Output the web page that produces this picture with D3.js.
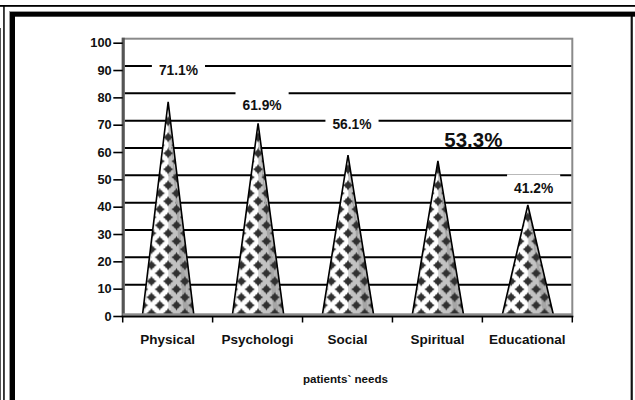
<!DOCTYPE html>
<html>
<head>
<meta charset="utf-8">
<script src="https://cdn.jsdelivr.net/npm/d3@7/dist/d3.min.js"></script>
<style>
  html, body { margin: 0; padding: 0; background: #fff; }
  svg { display: block; }
  text { font-family: "Liberation Sans", Arial, sans-serif; font-weight: bold; fill: #111; }
</style>
</head>
<body>
<svg id="chart" width="635" height="400"></svg>
<script>
// ---- data ----
const categories = ["Physical", "Psychologi", "Social", "Spiritual", "Educational"];
const coneValues = [78.4, 70.5, 58.9, 56.8, 40.6];
const labelTexts = ["71.1%", "61.9%", "56.1%", "53.3%", "41.2%"];
// label anchor (in data units) and horizontal offset (fraction of band)
const labelValues = [90.0, 77.2, 70.1, 64.4, 46.7];
const labelShift = [0.12, 0.05, 0.05, 0.40, 0.07];
const labelBig = [false, false, false, true, false];
const yTicks = [0, 10, 20, 30, 40, 50, 60, 70, 80, 90, 100];
const xTitle = "patients` needs";

// ---- layout ----
const W = 635, H = 400;
const plotL = 122.7, plotR = 572.3, floorY = 316, topY = 42.7;
const wallShift = 4; // back-wall gridline offset

const svg = d3.select("#chart");
const x = d3.scaleBand().domain(categories).range([plotL, plotR]).padding(0);
const y = d3.scaleLinear().domain([0, 100]).range([floorY, topY]);
const bw = x.bandwidth();

// ---- frame ----
svg.append("rect").attr("x", 0).attr("y", 0).attr("width", W).attr("height", H).attr("fill", "#fff");
svg.append("rect").attr("x", 0).attr("y", 5).attr("width", W).attr("height", 1.8).attr("fill", "#000");
svg.append("rect").attr("x", 3.2).attr("y", 6).attr("width", 1.5).attr("height", H).attr("fill", "#000");
svg.append("rect").attr("x", 0).attr("y", 28).attr("width", 1).attr("height", H).attr("fill", "#555");
svg.append("rect").attr("x", 9).attr("y", 11).attr("width", W).attr("height", H).attr("fill", "#999");
svg.append("rect").attr("x", 10).attr("y", 12).attr("width", W).attr("height", H).attr("fill", "#000");
svg.append("rect").attr("x", 15).attr("y", 16.7).attr("width", 630.8 - 15).attr("height", H).attr("fill", "#fff");
svg.append("rect").attr("x", 630.8).attr("y", 16.7).attr("width", 2).attr("height", H).attr("fill", "#111");
svg.append("rect").attr("x", 632.8).attr("y", 16.7).attr("width", 2.2).attr("height", H).attr("fill", "#fff");

const defs = svg.append("defs");
const patW = 16.7, patH = 16;

// diamond pattern, one per cone so a blob sits on each cone's axis
function makePattern(id, cx0, cy0) {
  const pat = defs.append("pattern").attr("id", id)
    .attr("patternUnits", "userSpaceOnUse")
    .attr("width", patW).attr("height", patH)
    .attr("x", cx0).attr("y", cy0);
  const centers = [[0,0],[patW,0],[0,patH],[patW,patH],[patW/2,patH/2]];
  const r = 5.2, s = 2.6;
  centers.forEach(([cx, cy]) => {
    pat.append("path")
      .attr("d", `M${cx},${cy-r} L${cx+s*0.55},${cy-s} L${cx+s},${cy-s*0.55} L${cx+r},${cy} L${cx+s},${cy+s*0.55} L${cx+s*0.55},${cy+s} L${cx},${cy+r} L${cx-s*0.55},${cy+s} L${cx-s},${cy+s*0.55} L${cx-r},${cy} L${cx-s},${cy-s*0.55} L${cx-s*0.55},${cy-s} Z`)
      .attr("fill", "#303030");
    pat.append("rect").attr("x", cx - s).attr("y", cy - s).attr("width", 2*s).attr("height", 2*s).attr("fill", "#303030");
  });
}

// ---- plot walls ----
const wallTop = y(100) - wallShift;
svg.append("rect").attr("x", plotL).attr("y", wallTop)
  .attr("width", plotR - plotL).attr("height", floorY - wallTop)
  .attr("fill", "#fff").attr("stroke", "#8a8a8a").attr("stroke-width", 2);

// gridlines (back wall)
svg.append("g").selectAll("line").data(yTicks.filter(v => v > 0 && v < 100)).join("line")
  .attr("x1", plotL + 2).attr("x2", plotR - 1)
  .attr("y1", d => y(d) - wallShift).attr("y2", d => y(d) - wallShift)
  .attr("stroke", "#000").attr("stroke-width", 2);

// left wall edge
svg.append("line").attr("x1", plotL + 0.6).attr("x2", plotL + 0.6)
  .attr("y1", wallTop - 1).attr("y2", floorY)
  .attr("stroke", "#555").attr("stroke-width", 3);

// ---- labels (boxes behind) ----
const lab = svg.append("g");
categories.forEach((c, i) => {
  const cx = x(c) + bw / 2 + labelShift[i] * bw;
  const cy = y(labelValues[i]);
  const g = lab.append("g");
  const t = g.append("text")
    .attr("x", cx).attr("y", cy)
    .attr("text-anchor", "middle").attr("dominant-baseline", "central")
    .attr("font-size", labelBig[i] ? 20.5 : 13.8)
    .text(labelTexts[i]);
  if (!labelBig[i]) {
    const bb = t.node().getBBox();
    g.insert("rect", "text")
      .attr("x", bb.x - 7).attr("y", cy - 14)
      .attr("width", bb.width + 14).attr("height", 25)
      .attr("fill", "#fff");
  }
});

// ---- cones ----
const stripes = [
  [0.00, 0.05, "#e4e4e4"],
  [0.05, 0.50, "#ffffff"],
  [0.50, 0.55, "#d6d6d6"],
  [0.55, 0.80, "#c2c2c2"],
  [0.80, 0.90, "#a6a6a6"],
  [0.90, 1.00, "#b2b2b2"]
];
const coneHalf = bw * 0.287;
const cones = svg.append("g");
categories.forEach((c, i) => {
  const cx = x(c) + bw / 2 + 0.5;
  const xl = cx - coneHalf, xr = cx + coneHalf;
  const ay = y(coneValues[i]);
  makePattern("dia" + i, cx, floorY - 2.7);
  const g = cones.append("g");
  stripes.forEach(([f0, f1, col]) => {
    g.append("path")
      .attr("d", `M${cx},${ay} L${xl + f0 * (xr - xl)},${floorY} L${xl + f1 * (xr - xl) + 0.4},${floorY} Z`)
      .attr("fill", col);
  });
  const outline = `M${cx},${ay} L${xl},${floorY} L${xr},${floorY} Z`;
  g.append("path").attr("d", outline).attr("fill", `url(#dia${i})`);
  g.append("path").attr("d", `M${xl},${floorY} L${cx},${ay} L${xr},${floorY}`)
    .attr("fill", "none").attr("stroke", "#000").attr("stroke-width", 1.6).attr("stroke-linejoin", "miter");
});

// ---- floor ----
svg.append("rect").attr("x", plotL).attr("y", floorY - 2.7).attr("width", plotR - plotL).attr("height", 2.7).attr("fill", "#8c8c8c");
svg.append("rect").attr("x", plotL - 1).attr("y", floorY - 0.3).attr("width", plotR - plotL + 2).attr("height", 1.8).attr("fill", "#000");

// x ticks at band boundaries
const bounds = categories.map(c => x(c)).concat([x(categories[categories.length - 1]) + bw]);
svg.append("g").selectAll("line").data(bounds).join("line")
  .attr("x1", d => d).attr("x2", d => d)
  .attr("y1", floorY).attr("y2", floorY + 6.5)
  .attr("stroke", "#000").attr("stroke-width", 1.5);

// x axis labels
const xAxis = d3.axisBottom(x).tickSize(0).tickPadding(18.4);
const gx = svg.append("g").attr("transform", `translate(0,${floorY})`).call(xAxis);
gx.select(".domain").remove();
gx.selectAll("text").attr("font-size", 13.5).attr("fill", "#111")
  .style("font-family", "'Liberation Sans', Arial, sans-serif").style("font-weight", "bold");

// y axis
const yAxis = d3.axisLeft(y).tickValues(yTicks).tickSize(9.4).tickPadding(1.6);
const gy = svg.append("g").attr("transform", `translate(${plotL},0)`).call(yAxis);
gy.select(".domain").remove();
gy.selectAll(".tick line").attr("stroke", "#000").attr("stroke-width", 1.6);
gy.selectAll("text").attr("font-size", 12.8).attr("fill", "#111")
  .style("font-family", "'Liberation Sans', Arial, sans-serif").style("font-weight", "bold");

// x title
svg.append("text").attr("x", 345.5).attr("y", 378)
  .attr("text-anchor", "middle").attr("dominant-baseline", "central")
  .attr("font-size", 11.6).text(xTitle);
</script>
</body>
</html>
